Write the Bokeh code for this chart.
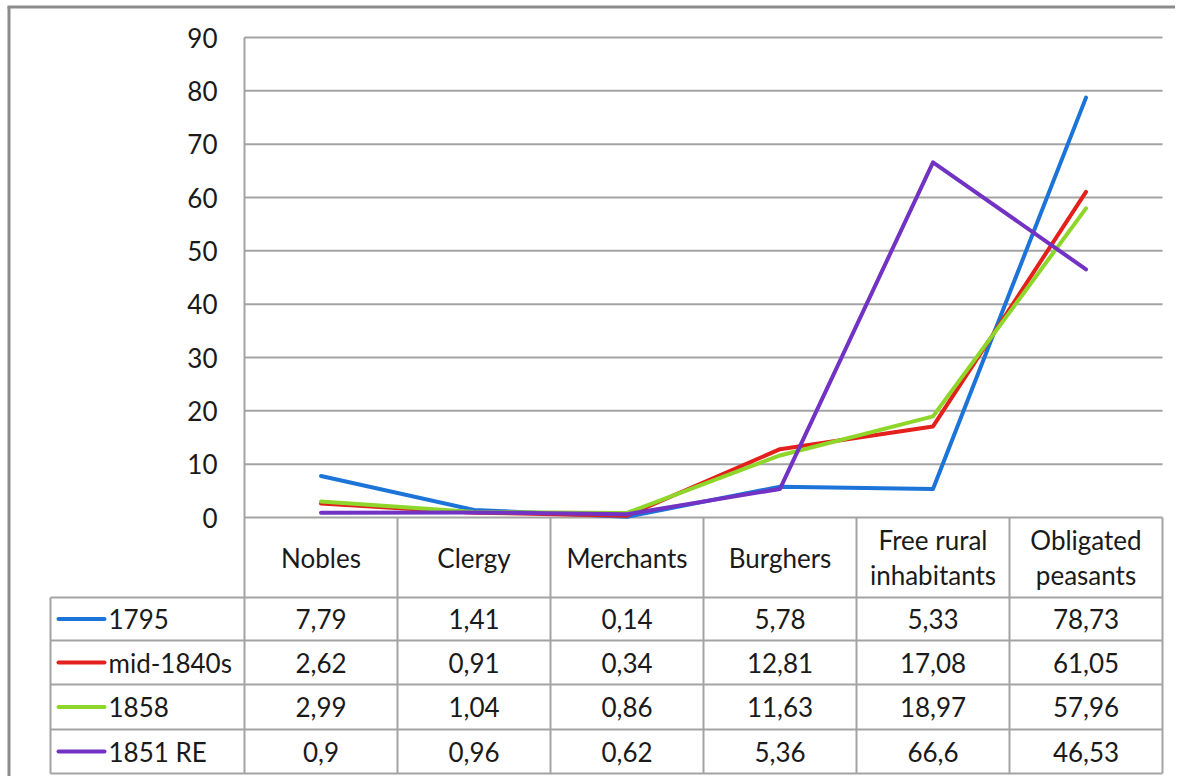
from bokeh.plotting import figure
from bokeh.models import Range1d
from bokeh.core.properties import value
from bokeh.embed import file_html
from bokeh.resources import INLINE

# ---- data ----
categories = ["Nobles", "Clergy", "Merchants", "Burghers", "Free rural\ninhabitants", "Obligated\npeasants"]
series_names = ["1795", "mid-1840s", "1858", "1851 RE"]
s1795 = [7.79, 1.41, 0.14, 5.78, 5.33, 78.73]
s1840s = [2.62, 0.91, 0.34, 12.81, 17.08, 61.05]
s1858 = [2.99, 1.04, 0.86, 11.63, 18.97, 57.96]
s1851 = [0.9, 0.96, 0.62, 5.36, 66.6, 46.53]
y_ticks = [0, 10, 20, 30, 40, 50, 60, 70, 80, 90]

series_values = [s1795, s1840s, s1858, s1851]
colors = ["#1c74d8", "#e3201b", "#8fd62a", "#7232c4"]

FONT = value("Lato")
FS = "26px"
TXT = "#1a1a1a"
GRID = "#a3a3a3"

W, H = 1175, 776
OFF = 0  # canvas origin in picture pixels
PX_X = 153.0          # pixels per category
PX_Y = 480.0 / 90.0   # pixels per unit
X0_PAGE = 244.0       # left of plot area
Y0_PAGE = 517.0       # value 0


def dx(page_x):
    return (page_x - X0_PAGE) / PX_X - 0.5


def dy(page_y):
    return (Y0_PAGE - page_y) / PX_Y


p = figure(width=W, height=H, output_backend="svg", toolbar_location=None,
           x_range=Range1d(dx(OFF), dx(OFF + W)), y_range=Range1d(dy(OFF + H), dy(OFF)),
           min_border=0, min_border_left=0, min_border_right=0,
           min_border_top=0, min_border_bottom=0)
p.axis.visible = False
p.grid.visible = False
p.outline_line_color = None
p.background_fill_color = "white"
p.border_fill_color = "white"

n = len(categories)
xs = list(range(n))
x_left = -0.5
x_right = n - 0.5

# outer chart border (left, top)
p.segment(x0=[dx(8.5)], y0=[dy(6)], x1=[dx(8.5)], y1=[dy(OFF + H + 5)], line_color="#8c8c8c", line_width=3)
p.segment(x0=[dx(7)], y0=[dy(6.5)], x1=[dx(OFF + W + 5)], y1=[dy(6.5)], line_color="#8c8c8c", line_width=3)

# horizontal grid lines
p.segment(x0=[x_left] * len(y_ticks), y0=y_ticks, x1=[x_right] * len(y_ticks), y1=y_ticks,
          line_color=GRID, line_width=2)
# left edge of plot area, continues through the table
p.segment(x0=[x_left], y0=[y_ticks[-1]], x1=[x_left], y1=[dy(773)], line_color=GRID, line_width=2)

# y tick labels
p.text(x=[dx(217)] * len(y_ticks), y=y_ticks, text=[str(t) for t in y_ticks],
       text_align="right", text_baseline="middle", text_font=FONT,
       text_font_size=FS, text_color=TXT)

# data lines
for vals, col in zip(series_values, colors):
    p.line(x=xs, y=vals, line_color=col, line_width=4, line_join="round", line_cap="round")

# ---- data table ----
row_lines = [597, 640, 684, 729, 773]
table_left = dx(50)
for ry in row_lines:
    p.segment(x0=[table_left], y0=[dy(ry)], x1=[x_right], y1=[dy(ry)], line_color=GRID, line_width=2)
p.segment(x0=[table_left], y0=[dy(597)], x1=[table_left], y1=[dy(773)], line_color=GRID, line_width=2)
for i in range(1, n + 1):
    xb = i - 0.5
    p.segment(x0=[xb], y0=[0], x1=[xb], y1=[dy(773)], line_color=GRID, line_width=2)

# header texts
for i, c in enumerate(categories):
    parts = c.split("\n")
    if len(parts) == 1:
        p.text(x=[i], y=[dy(557)], text=[parts[0]], text_align="center", text_baseline="middle",
               text_font=FONT, text_font_size=FS, text_color=TXT)
    else:
        p.text(x=[i, i], y=[dy(539), dy(574)], text=parts, text_align="center", text_baseline="middle",
               text_font=FONT, text_font_size=FS, text_color=TXT)

# rows
row_centers = [(row_lines[k] + row_lines[k + 1]) / 2.0 for k in range(4)]
for k, (name, vals, col) in enumerate(zip(series_names, series_values, colors)):
    yc = dy(row_centers[k])
    p.segment(x0=[dx(58)], y0=[yc], x1=[dx(104)], y1=[yc], line_color=col, line_width=4, line_cap="round")
    p.text(x=[dx(108)], y=[yc], text=[name], text_align="left", text_baseline="middle",
           text_font=FONT, text_font_size=FS, text_color=TXT)
    labels = [str(v).replace(".", ",") for v in vals]
    p.text(x=xs, y=[yc] * n, text=labels, text_align="center", text_baseline="middle",
           text_font=FONT, text_font_size=FS, text_color=TXT)

open("out.html", "w").write(file_html(p, INLINE))
